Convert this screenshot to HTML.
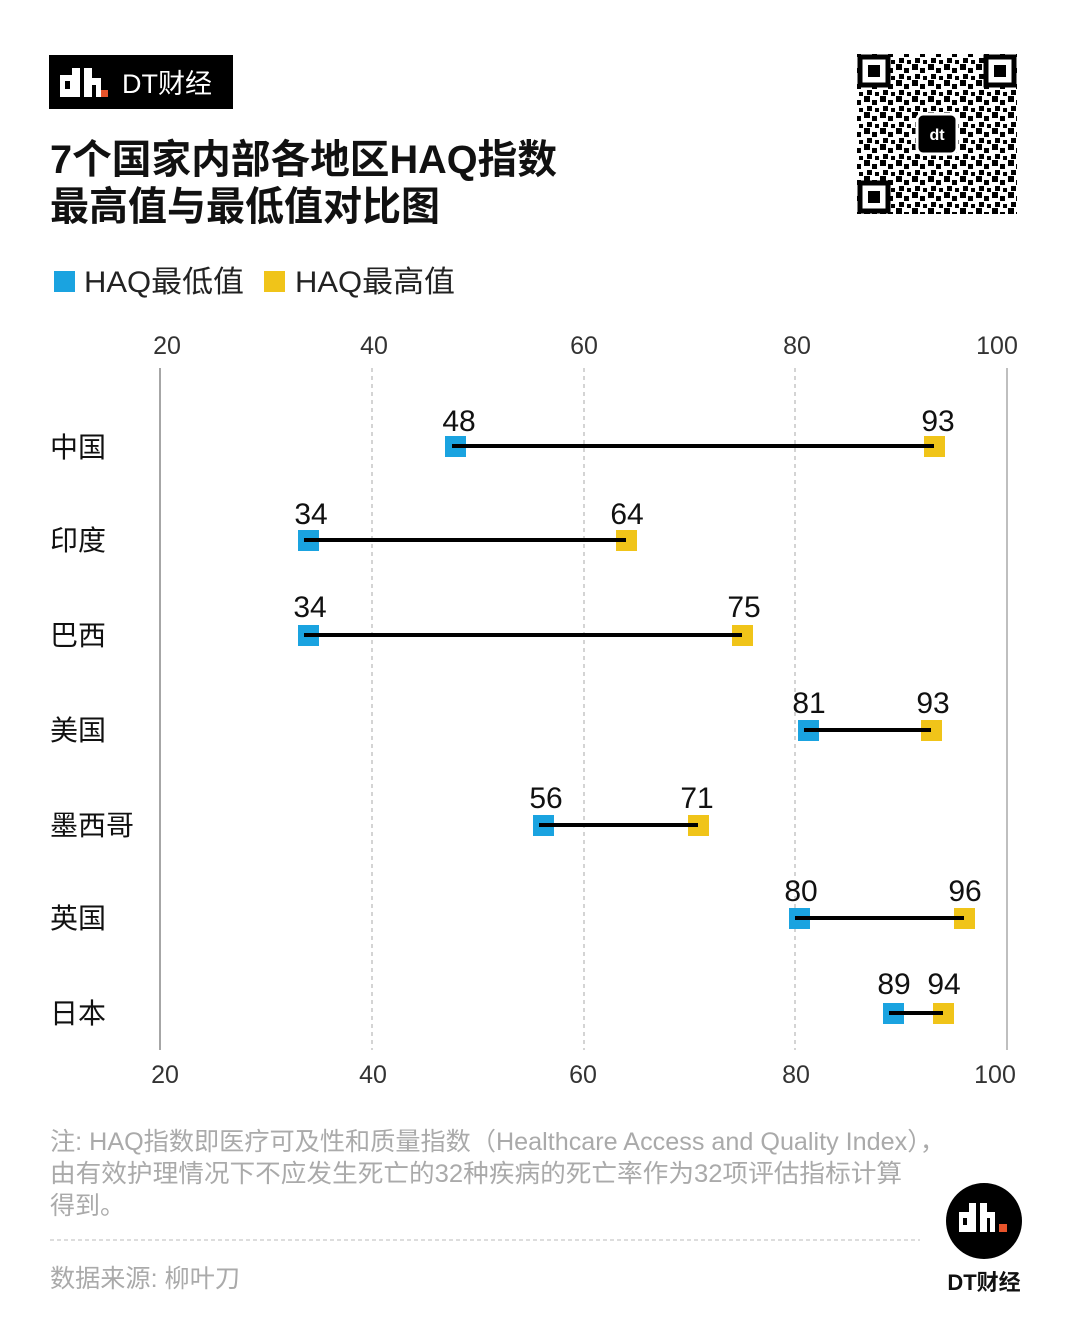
<!DOCTYPE html>
<html><head><meta charset="utf-8"><style>
body{margin:0;background:#fff}
svg{display:block;font-family:"Liberation Sans","Noto Sans CJK SC",sans-serif}
</style></head><body>
<svg width="1080" height="1320" viewBox="0 0 1080 1320" xmlns="http://www.w3.org/2000/svg">
<defs>
<pattern id="qr" width="16" height="16" patternUnits="userSpaceOnUse">
<rect x="0" y="0" width="6" height="6" fill="#000"/><rect x="8" y="4" width="5" height="5" fill="#000"/><rect x="3" y="10" width="5" height="5" fill="#000"/><rect x="11" y="12" width="4" height="4" fill="#000"/>
</pattern>
</defs>
<rect x="49" y="55" width="184" height="54" fill="#000"/>
<rect x="60" y="75" width="12" height="22" fill="#fff"/><rect x="72" y="68" width="8" height="29" fill="#fff"/><rect x="65" y="81" width="5" height="8" fill="#000"/>
<rect x="84" y="68" width="8" height="29" fill="#fff"/><rect x="92" y="78" width="9" height="7" fill="#fff"/><rect x="96" y="85" width="5" height="12" fill="#fff"/>
<rect x="101" y="90" width="7" height="7" fill="#e8542b"/>
<text x="122" y="93" font-size="27" fill="#fff">DT财经</text>
<text x="50" y="173" font-size="40" font-weight="bold" fill="#111" textLength="507" lengthAdjust="spacingAndGlyphs">7个国家内部各地区HAQ指数</text>
<text x="50" y="220" font-size="40" font-weight="bold" fill="#111" textLength="390" lengthAdjust="spacingAndGlyphs">最高值与最低值对比图</text>
<rect x="857" y="54" width="160" height="160" fill="url(#qr)"/>
<g fill="#fff" stroke="#000" stroke-width="5"><rect x="860" y="57" width="28" height="28"/><rect x="986" y="57" width="28" height="28"/><rect x="860" y="183" width="28" height="28"/></g>
<rect x="868" y="65" width="12" height="12"/><rect x="994" y="65" width="12" height="12"/><rect x="868" y="191" width="12" height="12"/>
<rect x="917" y="114" width="40" height="40" rx="6" fill="#000" stroke="#fff" stroke-width="3"/>
<text x="937" y="140" font-size="16" font-weight="bold" fill="#fff" text-anchor="middle">dt</text>
<rect x="54" y="271" width="21" height="21" fill="#1aa3e0"/>
<text x="84" y="292" font-size="30" fill="#222" textLength="160" lengthAdjust="spacingAndGlyphs">HAQ最低值</text>
<rect x="264" y="271" width="21" height="21" fill="#f0c419"/>
<text x="295" y="292" font-size="30" fill="#222" textLength="160" lengthAdjust="spacingAndGlyphs">HAQ最高值</text>
<g font-size="25" fill="#333" text-anchor="middle">
<text x="167" y="354">20</text><text x="374" y="354">40</text><text x="584" y="354">60</text><text x="797" y="354">80</text><text x="997" y="354">100</text>
<text x="165" y="1083">20</text><text x="373" y="1083">40</text><text x="583" y="1083">60</text><text x="796" y="1083">80</text><text x="995" y="1083">100</text>
</g>
<line x1="160" y1="368" x2="160" y2="1050" stroke="#888" stroke-width="1.5"/>
<line x1="1007" y1="368" x2="1007" y2="1050" stroke="#aaa" stroke-width="1.5"/>
<g stroke="#aaa" stroke-width="1" stroke-dasharray="4,4">
<line x1="372" y1="368" x2="372" y2="1050"/><line x1="584" y1="368" x2="584" y2="1050"/><line x1="795" y1="368" x2="795" y2="1050"/>
</g>
<g font-size="28" fill="#111">
<text x="50" y="457">中国</text><text x="50" y="550">印度</text><text x="50" y="645">巴西</text><text x="50" y="740">美国</text><text x="50" y="835">墨西哥</text><text x="50" y="928">英国</text><text x="50" y="1023">日本</text>
</g>
<g stroke="#000" stroke-width="4">
<line x1="456" y1="446" x2="934" y2="446"/><line x1="308" y1="540" x2="626" y2="540"/><line x1="308" y1="635" x2="742" y2="635"/><line x1="808" y1="730" x2="931" y2="730"/><line x1="543" y1="825" x2="698" y2="825"/><line x1="799" y1="918" x2="964" y2="918"/><line x1="893" y1="1013" x2="943" y2="1013"/>
</g>
<g fill="#1aa3e0">
<rect x="445" y="436" width="21" height="21"/><rect x="298" y="530" width="21" height="21"/><rect x="298" y="625" width="21" height="21"/><rect x="798" y="720" width="21" height="21"/><rect x="533" y="815" width="21" height="21"/><rect x="789" y="908" width="21" height="21"/><rect x="883" y="1003" width="21" height="21"/>
</g>
<g fill="#f0c419">
<rect x="924" y="436" width="21" height="21"/><rect x="616" y="530" width="21" height="21"/><rect x="732" y="625" width="21" height="21"/><rect x="921" y="720" width="21" height="21"/><rect x="688" y="815" width="21" height="21"/><rect x="954" y="908" width="21" height="21"/><rect x="933" y="1003" width="21" height="21"/>
</g>
<g stroke="#000" stroke-width="4">
<line x1="452" y1="446" x2="466" y2="446"/><line x1="304" y1="540" x2="319" y2="540"/><line x1="304" y1="635" x2="319" y2="635"/><line x1="804" y1="730" x2="819" y2="730"/><line x1="539" y1="825" x2="554" y2="825"/><line x1="795" y1="918" x2="810" y2="918"/><line x1="889" y1="1013" x2="904" y2="1013"/>
<line x1="924" y1="446" x2="934" y2="446"/><line x1="616" y1="540" x2="626" y2="540"/><line x1="732" y1="635" x2="742" y2="635"/><line x1="921" y1="730" x2="931" y2="730"/><line x1="688" y1="825" x2="698" y2="825"/><line x1="954" y1="918" x2="964" y2="918"/><line x1="933" y1="1013" x2="943" y2="1013"/>
</g>
<g font-size="30" fill="#111" text-anchor="middle">
<text x="459" y="431">48</text><text x="938" y="431">93</text>
<text x="311" y="524">34</text><text x="627" y="524">64</text>
<text x="310" y="617">34</text><text x="744" y="617">75</text>
<text x="809" y="713">81</text><text x="933" y="713">93</text>
<text x="546" y="808">56</text><text x="697" y="808">71</text>
<text x="801" y="901">80</text><text x="965" y="901">96</text>
<text x="894" y="994">89</text><text x="944" y="994">94</text>
</g>
<g font-size="25" fill="#aaa">
<text x="50" y="1150" textLength="895" lengthAdjust="spacingAndGlyphs">注: HAQ指数即医疗可及性和质量指数（Healthcare Access and Quality Index），</text>
<text x="50" y="1182" textLength="852" lengthAdjust="spacingAndGlyphs">由有效护理情况下不应发生死亡的32种疾病的死亡率作为32项评估指标计算</text>
<text x="50" y="1214">得到。</text>
<text x="50" y="1287" textLength="190" lengthAdjust="spacingAndGlyphs">数据来源: 柳叶刀</text>
</g>
<line x1="50" y1="1240" x2="920" y2="1240" stroke="#bbb" stroke-width="1" stroke-dasharray="4,3"/>
<circle cx="984" cy="1221" r="38" fill="#000"/>
<rect x="959" y="1212" width="10" height="20" fill="#fff"/><rect x="969" y="1203" width="7" height="29" fill="#fff"/><rect x="963" y="1218" width="4" height="7" fill="#000"/>
<rect x="980" y="1203" width="7" height="29" fill="#fff"/><rect x="987" y="1212" width="8" height="6" fill="#fff"/><rect x="990" y="1218" width="5" height="14" fill="#fff"/>
<rect x="999" y="1224" width="8" height="8" fill="#e8542b"/>
<text x="984" y="1290" font-size="22" font-weight="bold" fill="#111" text-anchor="middle">DT财经</text>
</svg>
</body></html>
